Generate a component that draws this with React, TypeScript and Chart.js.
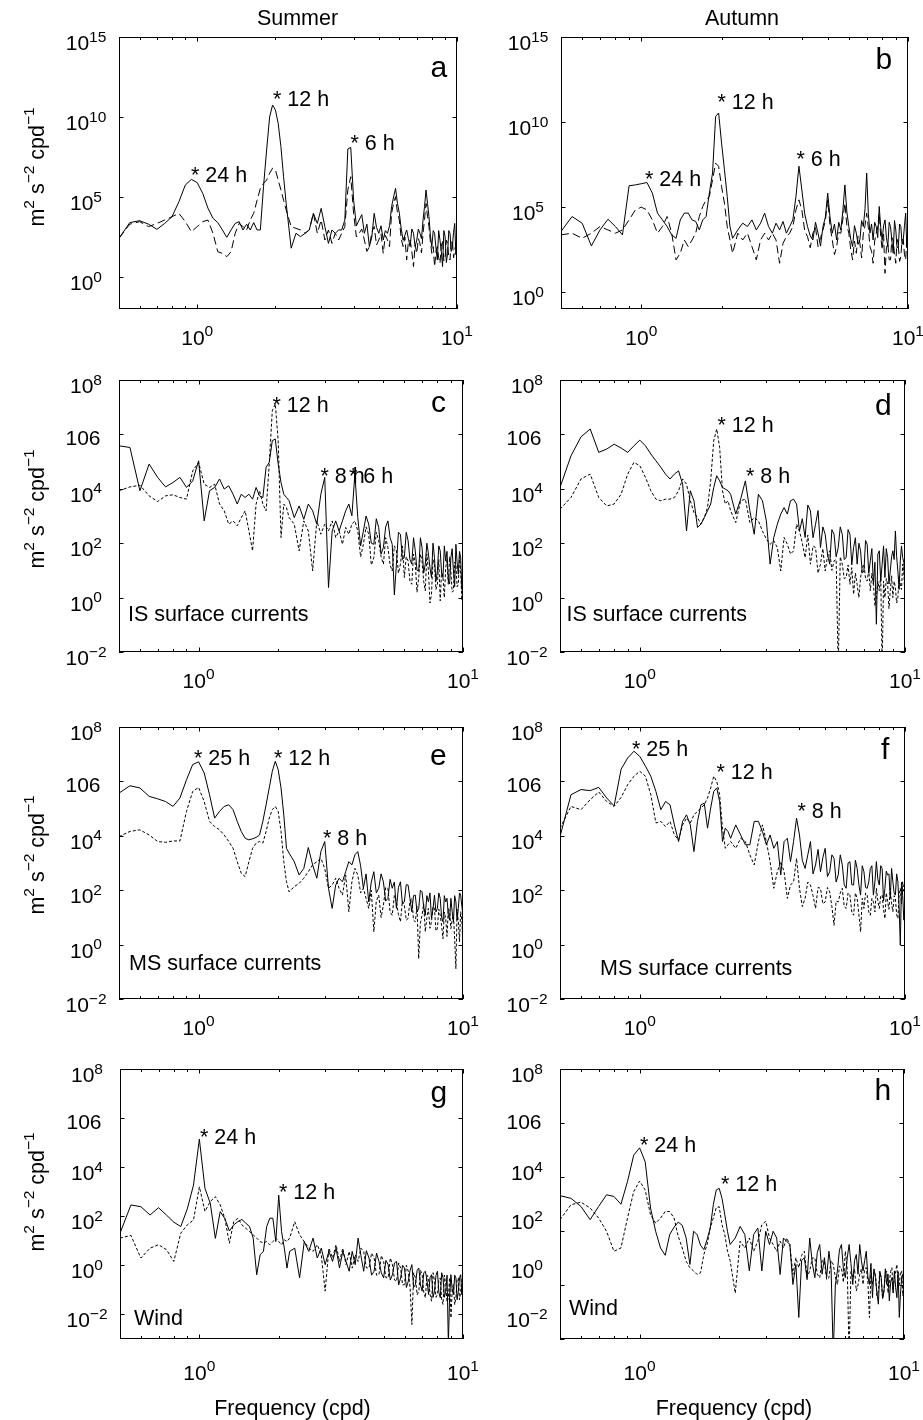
import React, { useEffect, useRef } from "react";
import { Chart, registerables } from "chart.js";

Chart.register(...registerables);

const FONT = '"Liberation Sans", Arial, Helvetica, sans-serif';

// Frequency grid (cpd), shared by all spectra
const freq = [
  0.5, 0.55, 0.6, 0.65, 0.7, 0.75, 0.8, 0.85, 0.9, 0.95,
  1.0, 1.05, 1.1, 1.15, 1.2, 1.25, 1.3, 1.35, 1.4, 1.45,
  1.5, 1.55, 1.6, 1.65, 1.7, 1.75, 1.8, 1.85, 1.9, 1.95,
  2.0, 2.05, 2.1, 2.15, 2.2, 2.3, 2.4, 2.5, 2.6, 2.7,
  2.8, 2.9, 3.0, 3.1, 3.2, 3.3, 3.4, 3.5, 3.6, 3.7,
  3.8, 3.9, 4.0, 4.2, 4.4, 4.6, 4.8, 5.0, 5.2, 5.4,
  5.6, 5.8, 6.0, 6.2, 6.4, 6.6, 6.8, 7.0, 7.2, 7.4,
  7.6, 7.8, 8.0, 8.2, 8.4, 8.6, 8.8, 9.0, 9.2, 9.4,
  9.6, 9.8, 10.0,
];
// Extra high-frequency points (cpd) between the grid points above
const freqMid = [
  4.1, 4.3, 4.5, 4.7, 4.9, 5.1, 5.3, 5.5, 5.7, 5.9,
  6.1, 6.3, 6.5, 6.7, 6.9, 7.1, 7.3, 7.5, 7.7, 7.9,
  8.1, 8.3, 8.5, 8.7, 8.9, 9.1, 9.3, 9.5, 9.7, 9.9,
];

// Spectral density, stored as log10(m^2 s^-2 cpd^-1)
// (a) Summer, sea level
const aSolid = [
  2.42, 3.4, 3.52, 3.3, 2.98, 3.35, 3.77, 4.7, 5.75, 6.1,
  5.9, 5.23, 4.3, 3.67, 3.4, 2.94, 2.48, 2.94, 3.35, 3.46,
  2.94, 3.3, 2.94, 3.4, 2.94, 2.94, 5.65, 7.94, 10.0, 10.75,
  10.44, 9.6, 8.15, 6.27, 4.6, 1.8, 2.73, 2.52, 2.73, 2.94,
  3.98, 3.35, 4.29, 3.15, 2.1, 2.94, 2.73, 2.94, 2.94, 3.56,
  8.0, 8.1, 4.8, 3.56, 2.73, 1.9, 3.98, 2.73, 2.31, 2.73,
  4.4, 5.54, 3.98, 2.31, 2.94, 1.9, 2.73, 2.31, 2.73, 3.56,
  5.44, 3.77, 1.9, 2.73, 1.06, 2.31, 0.65, 2.52, 1.48, 2.73,
  1.9, 3.35, 2.31,
];
const aSolidMid = [
  3.2, 3.9, 3.3, 2.5, 3.1, 3.2, 2.9, 3.2, 5.0, 4.6,
  3.0, 2.6, 2.4, 3.0, 1.9, 3.0, 2.4, 4.4, 4.6, 2.6,
  2.9, 1.8, 2.9, 1.6, 2.9, 0.9, 2.9, 1.6, 2.8, 1.4,
];
const aDashed = [
  2.42, 3.3, 3.46, 3.15, 3.35, 3.56, 3.77, 3.98, 3.46, 2.83,
  3.15, 3.46, 3.56, 2.73, 1.58, 1.48, 1.27, 1.58, 2.73, 3.35,
  3.15, 2.94, 3.56, 3.98, 4.8, 5.54, 5.85, 6.06, 6.48, 6.8,
  6.69, 6.06, 5.44, 4.8, 4.19, 3.15, 3.04, 2.94, 2.73, 2.94,
  3.98, 2.73, 3.56, 2.31, 2.94, 2.1, 2.73, 2.31, 2.73, 3.15,
  5.44, 6.27, 3.98, 2.73, 2.31, 1.9, 3.15, 2.31, 1.48, 2.31,
  3.98, 5.02, 3.56, 1.9, 1.06, 2.31, 0.65, 1.48, 2.1, 2.73,
  4.6, 3.15, 1.48, 0.65, 1.9, 0.85, 2.31, 1.27, 2.1, 1.06,
  2.31, 1.69, 2.73,
];
const aDashedMid = [
  2.5, 3.0, 1.6, 2.8, 2.0, 2.7, 2.6, 1.9, 4.6, 4.0,
  2.4, 2.5, 2.2, 1.6, 2.0, 2.4, 1.5, 3.6, 3.8, 2.2,
  1.9, 1.6, 1.2, 1.9, 1.0, 2.3, 1.2, 2.2, 1.2, 2.0,
];
// (b) Autumn, sea level
const bSolid = [
  3.56, 4.44, 4.05, 2.71, 3.65, 4.28, 3.85, 3.36, 6.25, 6.3,
  6.37, 6.44, 5.82, 4.64, 4.24, 3.85, 3.36, 3.16, 4.24, 4.64,
  4.64, 4.24, 4.15, 3.65, 4.24, 4.44, 5.82, 7.0, 10.33, 10.53,
  8.76, 7.2, 5.62, 3.85, 3.16, 3.65, 4.05, 3.85, 4.24, 3.65,
  4.05, 4.64, 3.85, 3.46, 4.05, 3.65, 4.15, 3.46, 3.85, 4.24,
  5.6, 7.4, 6.0, 3.85, 3.06, 3.46, 3.85, 5.82, 3.46, 3.06,
  3.65, 6.3, 3.85, 2.67, 3.46, 3.06, 3.85, 7.0, 3.46, 3.06,
  3.85, 5.03, 3.06, 4.24, 2.67, 3.85, 2.28, 3.65, 2.67, 3.85,
  3.06, 4.64, 3.46,
];
const bSolidMid = [
  4.6, 3.3, 4.1, 2.7, 4.4, 4.4, 4.0, 4.1, 4.8, 4.7,
  3.1, 3.9, 2.8, 4.2, 4.9, 4.6, 4.0, 4.1, 3.2, 3.8,
  3.9, 3.2, 4.1, 3.0, 4.2, 2.6, 4.0, 2.8, 3.9, 2.6,
];
const bDashed = [
  3.36, 3.46, 3.16, 3.46, 3.85, 3.65, 3.46, 3.65, 4.24, 4.83,
  4.99, 4.83, 4.24, 3.46, 3.85, 4.44, 3.46, 1.89, 2.28, 3.06,
  2.67, 3.06, 3.46, 4.44, 5.03, 5.42, 5.62, 6.6, 7.58, 7.39,
  6.2, 5.23, 3.85, 3.06, 2.28, 3.46, 3.06, 3.46, 2.67, 1.89,
  3.06, 3.46, 3.06, 3.46, 3.06, 1.69, 2.87, 3.26, 3.46, 3.85,
  4.83, 5.42, 4.83, 3.26, 3.46, 2.67, 3.65, 5.42, 3.06, 2.67,
  3.46, 5.23, 3.46, 1.89, 2.28, 2.87, 3.46, 4.64, 2.67, 1.69,
  3.46, 4.64, 2.48, 1.1, 2.87, 1.89, 3.06, 1.69, 2.67, 2.08,
  3.06, 1.89, 2.87,
];
const bDashedMid = [
  3.6, 2.6, 3.8, 3.2, 4.2, 3.9, 2.2, 3.5, 4.3, 3.9,
  2.5, 3.0, 3.3, 2.0, 3.9, 3.8, 2.4, 3.0, 3.8, 3.3,
  3.4, 2.6, 1.9, 3.2, 2.2, 3.1, 1.8, 3.1, 2.2, 3.2,
];
// (c) Summer, IS surface currents
const cSolid = [
  5.58, 5.52, 3.93, 4.91, 4.42, 4.07, 4.23, 4.42, 4.05, 4.29,
  5.03, 2.82, 3.93, 4.05, 4.36, 3.99, 4.11, 3.8, 3.44, 3.8,
  3.68, 3.8, 3.62, 4.05, 3.74, 3.68, 4.79, 4.97, 5.77, 5.83,
  4.91, 4.23, 3.8, 3.68, 3.56, 2.94, 3.37, 2.88, 3.44, 3.19,
  2.7, 3.8, 4.42, 0.37, 2.45, 2.82, 2.45, 2.82, 3.19, 3.44,
  3.01, 4.54, 2.94, 2.45, 2.7, 1.96, 2.58, 1.84, 2.82, 1.96,
  1.23, 2.33, 1.47, 2.09, 1.23, 1.72, 0.98, 1.84, 1.23, 1.6,
  0.74, 1.47, 0.98, 1.72, 0.74, 1.35, 0.61, 1.47, 0.98, 1.96,
  0.86, 1.47, 0.74,
];
const cSolidMid = [
  1.9, 3.0, 2.0, 2.9, 1.6, 2.6, 2.2, 0.1, 2.4, 1.4,
  2.4, 1.4, 2.2, 1.0, 2.2, 0.9, 2.0, 1.1, 2.0, 0.6,
  1.9, 0.9, 1.9, 1.7, 0.5, 1.8, 0.4, 1.3, 1.7, 0.3,
];
const cDashed = [
  3.93, 4.07, 4.13, 3.74, 3.53, 3.74, 3.78, 3.68, 3.62, 4.66,
  4.97, 4.17, 4.05, 4.17, 3.44, 3.19, 2.7, 2.82, 2.64, 2.94,
  3.19, 2.45, 1.72, 3.44, 3.93, 3.44, 3.19, 4.91, 6.87, 7.12,
  5.77, 2.21, 3.44, 3.31, 2.94, 2.7, 1.72, 2.82, 2.45, 0.98,
  2.82, 2.33, 2.7, 2.45, 2.82, 2.21, 2.45, 1.96, 2.58, 2.33,
  2.7, 2.82, 2.45, 1.96, 2.33, 1.47, 2.09, 1.23, 1.84, 0.98,
  1.72, 1.23, 0.74, 1.35, 0.49, 1.23, 0.74, 1.35, 0.25, 0.98,
  0.12, 1.23, 0.49, -0.12, 0.74, 1.1, 0.49, 0.98, 0.25, 1.23,
  0.49, 0.98, 0.37,
];
const cDashedMid = [
  1.5, 2.6, 1.2, 2.4, 1.5, 2.2, 1.2, 1.9, 0.9, 1.9,
  1.5, 0.6, 1.6, 0.2, 1.6, 0.6, 1.6, -0.2, 1.4, 0.3,
  1.4, 1.0, 0.0, 1.4, 1.5, 0.2, 1.3, 0.4, 1.5, -0.1,
];
// (d) Autumn, IS surface currents
const dSolid = [
  4.05, 5.21, 5.91, 6.2, 5.34, 5.46, 5.64, 5.5, 5.34, 5.58,
  5.79, 5.58, 5.28, 5.03, 4.79, 4.54, 4.36, 4.54, 4.66, 4.17,
  2.45, 3.93, 3.56, 2.58, 2.7, 2.94, 3.19, 3.44, 4.05, 4.48,
  4.29, 4.05, 3.99, 3.93, 3.8, 3.07, 3.62, 4.29, 3.19, 2.33,
  3.8, 3.56, 2.82, 1.23, 2.21, 2.7, 3.07, 3.31, 3.07, 3.56,
  3.62, 3.44, 2.45, 2.21, 3.19, 2.7, 1.84, 2.33, 1.23, 2.33,
  1.84, 2.33, 1.47, 2.33, 1.84, 1.23, 1.72, 0.98, 1.96, 1.35,
  0.49, -0.98, 1.72, 1.23, 0.74, 1.47, 0.98, 1.72, 2.45, 0.98,
  1.35, 1.47, 0.25,
];
const dSolidMid = [
  2.9, 3.4, 2.2, 3.2, 2.6, 1.6, 2.5, 1.5, 2.6, 1.4,
  2.5, 1.2, 2.2, 2.0, 0.9, 2.1, 0.9, 1.8, 1.3, 1.6,
  0.6, 1.9, 1.8, 0.5, 1.5, 1.4, 1.5, 0.3, 1.9, 1.3,
];
const dDashed = [
  3.25, 3.68, 4.36, 4.54, 3.68, 3.37, 3.44, 3.8, 4.54, 4.97,
  4.85, 4.42, 3.93, 3.62, 3.56, 3.62, 3.62, 3.68, 3.93, 4.36,
  4.17, 3.56, 3.13, 2.94, 2.7, 2.94, 3.31, 4.29, 5.77, 6.2,
  5.52, 3.93, 3.44, 3.56, 3.19, 2.76, 3.56, 3.62, 2.76, 2.94,
  2.82, 2.45, 2.15, 1.96, 2.09, 1.84, 0.98, 2.21, 1.96, 1.6,
  1.72, 2.7, 2.45, 1.47, 1.23, 1.84, 1.23, 0.98, 1.72, 1.35,
  -2.6, 1.23, 0.74, 0.49, 0.12, 0.49, 0.74, 1.23, 0.61, 0.25,
  0.49, 0.0, 0.25, -2.6, 0.0, 0.49, 0.25, 0.0, 0.37, 0.0,
  0.49, 1.23, 0.0,
];
const dDashedMid = [
  2.0, 2.3, 1.9, 0.9, 1.8, 1.5, 1.0, 1.4, 1.5, 0.7,
  1.2, 1.1, 0.9, 0.0, 1.1, 0.7, 1.0, 0.9, -0.3, 0.6,
  0.8, 0.6, 0.7, -0.4, 0.8, 0.6, -0.2, 0.8, 0.3, 0.9,
];
// (e) Summer, MS surface currents
const eSolid = [
  5.57, 5.84, 5.76, 5.45, 5.36, 5.26, 5.08, 5.39, 6.06, 6.62,
  6.72, 6.31, 5.51, 4.65, 4.9, 5.08, 5.14, 4.96, 4.53, 4.16,
  3.91, 3.85, 3.89, 3.94, 4.03, 4.53, 5.14, 5.76, 6.37, 6.74,
  6.43, 5.76, 4.77, 3.54, 3.36, 3.05, 2.56, 2.8, 3.57, 2.93,
  2.44, 3.42, 3.79, 2.07, 1.33, 2.19, 2.44, 2.31, 2.68, 3.05,
  2.93, 3.3, 3.42, 2.07, 1.57, 2.68, 2.07, 2.31, 1.7, 2.07,
  1.33, 2.31, 1.57, 2.19, 1.21, 1.82, 1.33, 1.94, 1.08, 1.57,
  0.96, 1.82, 1.33, 1.7, 0.84, 1.57, 1.08, 1.7, 0.84, 1.57,
  1.33, 1.82, 1.08,
];
const eSolidMid = [
  2.9, 2.6, 2.3, 1.9, 2.6, 1.6, 2.4, 2.3, 2.1, 1.5,
  2.2, 1.7, 1.8, 1.2, 2.0, 1.4, 1.8, 1.9, 1.3, 1.2,
  1.9, 1.0, 1.8, 1.7, 0.9, 1.2, 1.8, 0.9, 1.9, 1.4,
];
const eDashed = [
  3.97, 4.16, 4.22, 4.03, 3.79, 3.76, 3.81, 3.81, 4.9, 5.63,
  5.78, 5.26, 4.53, 4.34, 4.22, 4.03, 3.79, 3.54, 3.05, 2.62,
  2.5, 3.05, 3.54, 3.73, 3.79, 3.73, 4.16, 4.65, 4.96, 5.08,
  4.9, 4.16, 3.05, 2.31, 1.94, 2.13, 2.25, 2.44, 2.68, 2.93,
  3.05, 3.17, 2.8, 2.07, 2.19, 2.44, 2.07, 1.82, 2.56, 1.21,
  2.31, 2.8, 2.56, 2.07, 1.33, 0.47, 1.82, 1.45, 2.07, 1.08,
  1.57, 0.84, 1.45, 0.96, 1.7, 0.84, -0.52, 1.08, 0.47, 1.33,
  0.84, 1.33, 0.59, 1.08, 0.22, 0.96, 1.33, 0.59, 1.08, -0.89,
  0.84, 1.21, -0.15,
];
const eDashedMid = [
  1.9, 1.7, 2.0, 1.6, 1.0, 2.1, 1.2, 1.8, 1.1, 1.6,
  0.9, 1.6, 0.9, 1.4, 0.8, 1.5, 1.0, 0.6, 1.4, 0.5,
  1.3, 0.7, 1.2, 0.3, 1.2, 0.9, 0.2, 1.3, 0.1, 0.9,
];
// (f) Autumn, MS surface currents
const fSolid = [
  3.97, 5.51, 5.7, 5.66, 5.78, 5.39, 5.1, 6.45, 6.86, 7.11,
  6.92, 6.56, 6.19, 5.63, 4.96, 5.26, 5.14, 4.4, 3.79, 4.53,
  4.77, 4.4, 3.42, 4.53, 5.14, 5.2, 4.28, 5.02, 5.63, 5.76,
  5.26, 3.79, 4.28, 4.16, 3.91, 4.4, 4.03, 3.67, 3.67, 4.53,
  4.53, 4.16, 3.67, 4.03, 3.54, 3.79, 2.56, 3.79, 3.91, 3.05,
  3.79, 4.65, 4.03, 2.8, 3.79, 2.93, 2.68, 3.54, 2.68, 3.17,
  2.56, 2.93, 2.07, 3.05, 2.19, 2.8, 1.82, 2.68, 2.07, 2.8,
  1.82, 3.05, 2.19, 2.8, 2.07, 2.56, 1.7, 2.31, 1.82, 2.31,
  -0.02, 1.82, 1.57,
];
const fSolidMid = [
  3.1, 3.3, 2.6, 3.5, 3.2, 2.5, 3.3, 2.3, 3.3, 2.2,
  3.0, 2.2, 3.1, 2.2, 2.9, 2.1, 2.3, 2.9, 2.3, 2.4,
  2.9, 1.6, 2.7, 2.6, 2.8, 1.9, 2.6, 1.4, 2.3, 0.9,
];
const fDashed = [
  4.28, 5.08, 4.96, 5.33, 5.61, 5.26, 5.08, 5.41, 5.88, 6.19,
  6.37, 6.19, 5.51, 4.47, 4.53, 4.34, 4.53, 4.03, 3.85, 4.4,
  4.65, 4.47, 4.77, 4.9, 5.02, 5.14, 5.39, 5.76, 6.19, 6.0,
  5.51, 4.28, 3.54, 3.67, 3.79, 3.54, 3.91, 3.79, 3.3, 2.93,
  3.79, 4.4, 3.79, 3.05, 2.07, 2.68, 3.05, 2.68, 1.7, 2.19,
  2.31, 3.17, 2.07, 1.7, 2.19, 1.33, 2.07, 1.57, 1.94, 0.71,
  1.57, 2.07, 1.33, 1.82, 1.08, 1.7, 0.47, 1.33, 1.82, 1.08,
  1.57, 2.07, 1.33, 1.82, 0.96, 1.57, 2.07, 1.21, 1.7, 0.96,
  2.07, 2.31, 1.82,
];
const fDashedMid = [
  1.4, 2.3, 1.8, 2.1, 1.5, 2.1, 1.4, 1.6, 1.9, 1.4,
  1.9, 1.2, 1.9, 1.1, 1.7, 1.9, 1.2, 1.7, 1.2, 1.6,
  1.8, 1.3, 1.9, 1.3, 1.5, 1.8, 1.1, 1.8, 1.5, 2.0,
];
// (g) Summer, wind
const gSolid = [
  1.31, 2.46, 2.39, 2.05, 2.35, 2.05, 1.76, 1.58, 2.3, 3.27,
  5.14, 3.14, 2.53, 1.1, 2.19, 1.9, 1.4, 1.65, 1.78, 1.87,
  1.72, 1.58, 1.11, -0.38, 0.43, 0.57, 1.58, 1.92, 1.92, 0.97,
  2.86, 1.38, 0.7, -0.11, 0.57, 0.7, -0.51, 0.97, 0.57, 1.11,
  0.3, 0.7, 0.03, 0.57, 0.16, 0.7, -0.11, 0.57, 0.16, -0.24,
  0.57, 0.03, 1.11, -0.24, 0.3, -0.24, 0.16, -0.51, 0.03, -0.38,
  0.16, -0.51, -0.11, -0.65, 0.03, -0.78, -0.11, -1.05, -0.24, -1.19,
  -0.38, -1.05, -0.24, -1.32, -0.51, -1.05, -3.2, -0.38, -1.19, -0.51,
  -1.05, -0.38, -0.78,
];
const gSolidMid = [
  0.4, 0.6, -0.4, 0.5, -0.3, 0.2, -0.6, 0.1, -0.8, 0.0,
  -0.9, -0.2, -0.9, -0.2, -0.8, -0.3, -0.6, -0.5, -1.3, -0.4,
  -1.1, -0.3, -1.3, -0.4, -1.2, -1.0, -0.4, -1.4, -0.5, -1.2,
];
const gDashed = [
  1.11, 1.22, 0.3, 0.7, 0.84, 0.64, 0.16, 1.31, 1.65, 1.85,
  3.2, 2.2, 2.6, 2.8, 2.46, 1.9, 0.9, 1.78, 1.92, 1.65,
  1.51, 1.38, 1.24, 1.11, 0.97, 0.91, 0.97, 0.84, 0.97, 1.11,
  0.97, 0.84, 1.04, 0.97, 1.11, 1.78, 1.24, 0.97, 0.7, 0.57,
  0.84, 0.43, -1.05, 0.7, 0.3, 0.84, 0.16, 0.7, 0.03, 0.57,
  -0.11, 0.43, 0.16, 0.57, -0.11, 0.3, -0.38, 0.16, -0.51, 0.03,
  -0.65, -0.11, -0.78, -0.24, -2.41, -0.51, -1.05, -0.38, -1.32, -0.51,
  -1.46, -0.65, -1.19, -0.51, -1.59, -0.78, -1.32, -2.14, -0.78, -1.32,
  -0.51, -1.05, -0.24,
];
const gDashedMid = [
  0.7, -0.1, 0.5, -0.4, 0.4, -0.5, 0.3, -0.6, 0.1, -0.8,
  0.0, -0.9, -0.3, -1.2, -0.2, -1.1, -0.4, -1.2, -0.3, -1.3,
  -0.6, -1.4, -0.4, -1.5, -0.5, -1.0, -1.6, -0.6, -1.4, -0.6,
];
// (h) Autumn, wind
const hSolid = [
  3.31, 3.21, 2.91, 2.42, 2.91, 3.34, 3.28, 2.99, 3.83, 4.81,
  5.08, 4.56, 2.85, 1.99, 1.37, 1.1, 1.87, 2.14, 2.33, 2.21,
  1.74, 0.76, 1.99, 1.87, 1.47, 1.31, 1.68, 2.11, 2.97, 3.52,
  3.58, 3.21, 2.6, 1.99, 1.5, 1.74, 2.17, 1.87, 0.52, 1.87,
  2.11, 0.52, 1.99, 1.5, 1.99, 1.74, 0.39, 1.74, 1.62, 1.5,
  0.02, 0.76, -1.2, 1.01, 1.74, 0.27, 1.5, 1.01, 1.25, -2.6,
  0.52, 1.5, 0.27, 1.5, 0.02, 1.13, 1.5, 0.52, 1.25, 0.02,
  -0.47, 0.27, -0.71, 0.27, -0.22, 0.02, -0.59, 0.27, 0.52, -0.47,
  -1.2, 0.27, -0.22,
];
const hSolidMid = [
  0.9, 0.2, 0.8, 1.2, 0.4, 0.3, 0.6, 0.0, 1.3, 0.6,
  1.0, 0.8, 0.9, 0.4, 0.9, 0.9, 0.3, 0.8, 0.6, -0.3,
  0.5, -0.5, 0.6, 0.4, 0.1, -0.3, -0.1, 0.5, -0.3, 0.4,
];
const hDashed = [
  2.42, 2.97, 3.07, 2.85, 2.48, 1.99, 1.25, 1.37, 2.48, 3.46,
  3.85, 3.52, 2.6, 2.29, 2.48, 2.72, 2.72, 2.48, 1.8, 1.37,
  0.88, 0.64, 0.52, 0.39, 0.45, 1.13, 1.5, 2.11, 2.48, 2.87,
  2.9, 2.23, 1.87, 1.25, 0.9, -0.3, 1.62, 1.37, 1.74, 1.25,
  1.62, 2.23, 2.36, 1.74, 1.5, 1.25, 1.62, 1.37, 1.74, 1.5,
  0.39, 1.01, 0.64, 1.25, 0.52, 1.01, 0.27, 0.88, 0.27, 0.76,
  0.02, 0.64, 1.25, -2.6, 0.27, -0.22, 0.39, 0.02, 0.64, -1.2,
  0.02, 0.39, -0.22, 0.27, -0.22, 0.52, 0.02, 0.64, 0.27, 0.76,
  0.02, 0.52, 0.02,
];
const hDashedMid = [
  1.1, 0.3, 1.0, 0.4, 0.9, 0.2, 0.9, 0.3, 0.7, 0.1,
  0.6, 0.5, 0.6, 0.0, 0.6, 0.6, 0.1, 0.4, 0.5, -0.4,
  0.5, -0.5, 0.4, -0.3, 0.5, -0.2, 0.5, -0.1, 0.5, -0.4,
];

// Axis ticks and labels
const X_MAJOR = [1, 10];
const X_MINOR = [0.6, 0.7, 0.8, 0.9, 2, 3, 4, 5, 6, 7, 8, 9];
const X_LABELS = [["10", "0"], ["10", "1"]];
const WIDE_TICKS = [1e0, 1e5, 1e10, 1e15];
const WIDE_LABELS = [["10", "0"], ["10", "5"], ["10", "10"], ["10", "15"]];
const NARROW_TICKS = [1e-2, 1e0, 1e2, 1e4, 1e6, 1e8];
const NARROW_LABELS = [["10", "\u22122"], ["10", "0"], ["10", "2"], ["10", "4"], ["106", ""], ["10", "8"]];

const COLS = [{ x: 0, w: 485 }, { x: 485, w: 438 }];
const ROWS = [[0, 350], [350, 700], [700, 1042], [1042, 1420]];

type Note = [string, number, number];
interface Panel {
  key: string;
  col: number;
  row: number;
  box: [number, number, number, number];
  yMin: number;
  yMax: number;
  ticks: number[];
  labels: string[][];
  labelLogMin?: number;
  solid: number[];
  solidMid: number[];
  dashed: number[];
  dashedMid: number[];
  dash: number[];
  letter: Note;
  notes: Note[];
  caption?: Note;
  title?: Note;
  xtitle?: Note;
  ylabelY?: number;
  xlabDy: number;
}

const PANELS: Panel[] = [
  {
    key: "a", col: 0, row: 0, box: [119, 457, 37, 309], yMin: 1e-2, yMax: 1e15,
    ticks: WIDE_TICKS, labels: WIDE_LABELS, solid: aSolid, solidMid: aSolidMid, dashed: aDashed, dashedMid: aDashedMid, dash: [8, 4],
    letter: ["a", 430.5, 77], notes: [["* 24 h", 191, 182], ["* 12 h", 273, 106], ["* 6 h", 350.5, 150]],
    title: ["Summer", 297.5, 25], ylabelY: 167, xlabDy: 35.5,
  },
  {
    key: "b", col: 1, row: 0, box: [561, 908, 37, 309], yMin: 1e-1, yMax: 1e15,
    ticks: WIDE_TICKS, labels: WIDE_LABELS, solid: bSolid, solidMid: bSolidMid, dashed: bDashed, dashedMid: bDashedMid, dash: [8, 4],
    letter: ["b", 875.5, 68.5], notes: [["* 24 h", 645, 186], ["* 12 h", 717.5, 108.5], ["* 6 h", 796.5, 166]],
    title: ["Autumn", 742, 25], xlabDy: 35.5,
  },
  {
    key: "c", col: 0, row: 1, box: [119, 463, 380, 652], yMin: 1e-2, yMax: 1e8,
    ticks: NARROW_TICKS, labels: NARROW_LABELS, solid: cSolid, solidMid: cSolidMid, dashed: cDashed, dashedMid: cDashedMid, dash: [3, 2],
    letter: ["c", 431, 411.5], notes: [["* 12 h", 272.5, 411.5], ["* 8 h", 320.5, 482.5], ["* 6 h", 349, 482.5]],
    caption: ["IS surface currents", 128, 620.5], ylabelY: 509, xlabDy: 35.5,
  },
  {
    key: "d", col: 1, row: 1, box: [560, 905, 380, 652], yMin: 1e-2, yMax: 1e8,
    ticks: NARROW_TICKS, labels: NARROW_LABELS, solid: dSolid, solidMid: dSolidMid, dashed: dDashed, dashedMid: dDashedMid, dash: [3, 2],
    letter: ["d", 875, 415], notes: [["* 12 h", 717.5, 431.5], ["* 8 h", 746, 482.5]],
    caption: ["IS surface currents", 566.5, 620.5], xlabDy: 35.5,
  },
  {
    key: "e", col: 0, row: 2, box: [119, 463, 727, 999], yMin: 1e-2, yMax: 1e8,
    ticks: NARROW_TICKS, labels: NARROW_LABELS, solid: eSolid, solidMid: eSolidMid, dashed: eDashed, dashedMid: eDashedMid, dash: [3, 2],
    letter: ["e", 430, 765], notes: [["* 25 h", 194, 765], ["* 12 h", 274, 765], ["* 8 h", 323, 844.5]],
    caption: ["MS surface currents", 129, 970], ylabelY: 855, xlabDy: 35.5,
  },
  {
    key: "f", col: 1, row: 2, box: [560, 905, 727, 999], yMin: 1e-2, yMax: 1e8,
    ticks: NARROW_TICKS, labels: NARROW_LABELS, solid: fSolid, solidMid: fSolidMid, dashed: fDashed, dashedMid: fDashedMid, dash: [3, 2],
    letter: ["f", 881, 758.5], notes: [["* 25 h", 632, 756], ["* 12 h", 716.5, 779], ["* 8 h", 797.5, 817.5]],
    caption: ["MS surface currents", 600, 975], xlabDy: 35.5,
  },
  {
    key: "g", col: 0, row: 3, box: [120, 463, 1069, 1339], yMin: 1e-3, yMax: 1e8,
    ticks: NARROW_TICKS, labels: NARROW_LABELS, solid: gSolid, solidMid: gSolidMid, dashed: gDashed, dashedMid: gDashedMid, dash: [3, 2],
    letter: ["g", 430.5, 1101.5], notes: [["* 24 h", 200, 1143.5], ["* 12 h", 279, 1199]],
    caption: ["Wind", 134, 1324.5], ylabelY: 1192, xlabDy: 40.5, xtitle: ["Frequency (cpd)", 292.5, 1415],
  },
  {
    key: "h", col: 1, row: 3, box: [560, 904, 1069, 1339], yMin: 1e-2, yMax: 1e8, labelLogMin: -3,
    ticks: NARROW_TICKS, labels: NARROW_LABELS, solid: hSolid, solidMid: hSolidMid, dashed: hDashed, dashedMid: hDashedMid, dash: [3, 2],
    letter: ["h", 874.5, 1100], notes: [["* 24 h", 640, 1151.5], ["* 12 h", 721, 1191]],
    caption: ["Wind", 569, 1315], xlabDy: 40.5, xtitle: ["Frequency (cpd)", 734, 1415],
  },
];

const BASE_SIZE = 21;
const SUP_SIZE = 15.5;

function drawPow(ctx: CanvasRenderingContext2D, base: string, sup: string, x: number, y: number) {
  const rise = 8.5;
  ctx.font = `${BASE_SIZE}px ${FONT}`;
  const wb = ctx.measureText(base).width;
  ctx.font = `${SUP_SIZE}px ${FONT}`;
  const ws = sup ? ctx.measureText(sup).width : 0;
  const x0 = x - (wb + ws) / 2;
  ctx.textAlign = "left";
  ctx.textBaseline = "alphabetic";
  ctx.font = `${BASE_SIZE}px ${FONT}`;
  ctx.fillText(base, x0, y);
  if (sup) {
    ctx.font = `${SUP_SIZE}px ${FONT}`;
    ctx.fillText(sup, x0 + wb, y - rise);
  }
}

function drawYLabel(ctx: CanvasRenderingContext2D, bx: number, cy: number) {
  const segs: [string, boolean][] = [["m", false], ["2", true], [" s", false], ["\u22122", true], [" cpd", false], ["\u22121", true]];
  ctx.save();
  ctx.translate(bx, cy);
  ctx.rotate(-Math.PI / 2);
  ctx.textAlign = "left";
  ctx.textBaseline = "alphabetic";
  let total = 0;
  const widths = segs.map(([t, s]) => {
    ctx.font = `${s ? 15.5 : 21.5}px ${FONT}`;
    const w = ctx.measureText(t).width;
    total += w;
    return w;
  });
  let x = -total / 2;
  segs.forEach(([t, s], i) => {
    ctx.font = `${s ? 15.5 : 21.5}px ${FONT}`;
    ctx.fillText(t, x, s ? -9.5 : 0);
    x += widths[i];
  });
  ctx.restore();
}

function makeDecor(p: Panel) {
  return {
    id: "decor_" + p.key,
    afterDraw(chart: any) {
      const ctx: CanvasRenderingContext2D = chart.ctx;
      const ox = COLS[p.col].x;
      const oy = ROWS[p.row][0];
      const xs = chart.scales.x;
      const ys = chart.scales.y;
      const ca = chart.chartArea;
      const L = ca.left + ox, R = ca.right + ox, T = ca.top + oy, B = ca.bottom + oy;
      const X = (v: number) => xs.getPixelForValue(v) + ox;
      const Y = (v: number) => ys.getPixelForValue(v) + oy;
      ctx.save();
      ctx.translate(-ox, -oy);
      ctx.strokeStyle = "#000";
      ctx.fillStyle = "#000";
      ctx.lineWidth = 1;
      ctx.setLineDash([]);
      ctx.strokeRect(L + 0.5, T + 0.5, R - L - 1, B - T - 1);
      ctx.beginPath();
      for (const v of X_MINOR) {
        const px = Math.round(X(v)) + 0.5;
        ctx.moveTo(px, B); ctx.lineTo(px, B - 3);
        ctx.moveTo(px, T); ctx.lineTo(px, T + 3);
      }
      for (const v of X_MAJOR) {
        const px = Math.round(X(v)) + 0.5;
        ctx.moveTo(px, B); ctx.lineTo(px, B - 4.5);
        ctx.moveTo(px, T); ctx.lineTo(px, T + 4.5);
      }
      for (const v of p.ticks) {
        if (v < p.yMin || v > p.yMax) continue;
        const py = Math.round(Y(v)) + 0.5;
        ctx.moveTo(L, py); ctx.lineTo(L + 4.5, py);
        ctx.moveTo(R, py); ctx.lineTo(R - 4.5, py);
      }
      ctx.stroke();

      // y tick labels
      const lmax = Math.log10(p.yMax);
      const lmin = p.labelLogMin !== undefined ? p.labelLogMin : Math.log10(p.yMin);
      p.ticks.forEach((v, i) => {
        const [b, s] = p.labels[i];
        const ly = p.labelLogMin !== undefined
          ? T + ((lmax - Math.log10(v)) / (lmax - lmin)) * (B - T)
          : Y(v);
        if (s) drawPow(ctx, b, s, L - 33, ly + 13);
        else {
          ctx.font = `${BASE_SIZE}px ${FONT}`;
          ctx.textAlign = "center";
          ctx.textBaseline = "alphabetic";
          ctx.fillText(b, L - 36, ly + 11);
        }
      });
      // x tick labels
      X_MAJOR.forEach((v, i) => drawPow(ctx, X_LABELS[i][0], X_LABELS[i][1], X(v), B + p.xlabDy));

      // texts
      ctx.textBaseline = "alphabetic";
      ctx.textAlign = "left";
      ctx.font = `30px ${FONT}`;
      ctx.fillText(p.letter[0], p.letter[1], p.letter[2]);
      ctx.font = `21.5px ${FONT}`;
      for (const [t, x, y] of p.notes) ctx.fillText(t, x, y);
      if (p.caption) ctx.fillText(p.caption[0], p.caption[1], p.caption[2]);
      ctx.textAlign = "center";
      if (p.title) ctx.fillText(p.title[0], p.title[1], p.title[2]);
      if (p.xtitle) ctx.fillText(p.xtitle[0], p.xtitle[1], p.xtitle[2]);
      if (p.ylabelY !== undefined) drawYLabel(ctx, 43.5, p.ylabelY);
      ctx.restore();
    },
  };
}

// Combine the main grid and the in-between high-frequency points, ordered by frequency
const toPoints = (vals: number[], mids: number[]) =>
  freq
    .map((f, i) => ({ x: f, y: Math.pow(10, vals[i]) }))
    .concat(freqMid.map((f, i) => ({ x: f, y: Math.pow(10, mids[i]) })))
    .sort((a, b) => a.x - b.x);

function PanelChart({ p }: { p: Panel }) {
  const ref = useRef<HTMLCanvasElement>(null);
  const col = COLS[p.col];
  const [y0, y1] = ROWS[p.row];
  const w = col.w, h = y1 - y0;
  useEffect(() => {
    const canvas = ref.current;
    if (!canvas) return;
    const [bl, br, bt, bb] = p.box;
    const chart = new Chart(canvas, {
      type: "line",
      data: {
        datasets: [
          {
            data: toPoints(p.solid, p.solidMid),
            borderColor: "#000",
            borderWidth: 1,
            pointRadius: 0,
            tension: 0,
            fill: false,
            borderJoinStyle: "round",
          },
          {
            data: toPoints(p.dashed, p.dashedMid),
            borderColor: "#000",
            borderWidth: 1,
            borderDash: p.dash,
            pointRadius: 0,
            tension: 0,
            fill: false,
            borderJoinStyle: "round",
          },
        ],
      },
      options: {
        responsive: false,
        maintainAspectRatio: false,
        animation: false,
        devicePixelRatio: 1,
        events: [],
        layout: {
          padding: { left: bl - col.x, right: col.x + w - br, top: bt - y0, bottom: y1 - bb },
        },
        plugins: { legend: { display: false }, tooltip: { enabled: false }, title: { display: false } },
        scales: {
          x: { type: "logarithmic", min: 0.5, max: 10, display: false },
          y: { type: "logarithmic", min: p.yMin, max: p.yMax, display: false },
        },
      } as any,
      plugins: [makeDecor(p)],
    } as any);
    return () => chart.destroy();
  }, []);
  return (
    <canvas
      ref={ref}
      width={w}
      height={h}
      style={{ position: "absolute", left: col.x, top: y0, width: w, height: h }}
    />
  );
}

export default function App() {
  return (
    <div style={{ position: "absolute", left: 0, top: 0, width: 923, height: 1420, background: "#fff" }}>
      {PANELS.map((p) => (
        <PanelChart key={p.key} p={p} />
      ))}
    </div>
  );
}
